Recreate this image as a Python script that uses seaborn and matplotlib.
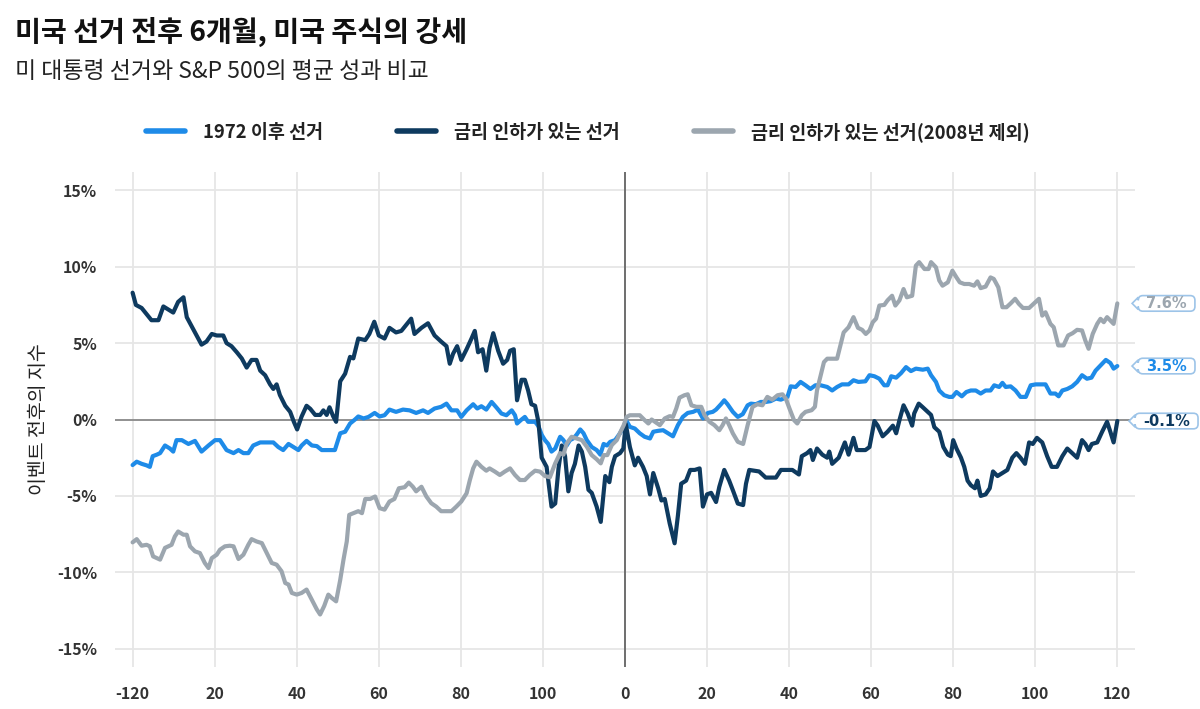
import matplotlib
matplotlib.use("Agg")
import matplotlib.pyplot as plt
from matplotlib.path import Path
from matplotlib.lines import Line2D
import matplotlib.transforms as mtransforms
import seaborn as sns
import pandas as pd

# ---------------- data ----------------
title = "미국 선거 전후 6개월, 미국 주식의 강세"
subtitle = "미 대통령 선거와 S&P 500의 평균 성과 비교"
ylabel = "이벤트 전후의 지수"
series_names = ["1972 이후 선거", "금리 인하가 있는 선거", "금리 인하가 있는 선거(2008년 제외)"]
series_colors = ["#1E8BE8", "#0E3A5F", "#9CA6AF"]

x_ticks = [-120, -100, -80, -60, -40, -20, 0, 20, 40, 60, 80, 100, 120]
x_ticklabels = ["-120", "20", "40", "60", "80", "100", "0", "20", "40", "60", "80", "100", "120"]
y_ticks = [-15, -10, -5, 0, 5, 10, 15]

all_days = [-120, -119, -117.8, -116.6, -115.8, -115.1, -114.1, -113.3, -112.1, -110.9, -110.1, -109.3, -108, -106.4,
            -104.8, -103.2, -101.5, -99.9, -98.7, -97.1, -95.4, -94.2, -93, -91.8, -90.6, -88.9, -85.7, -84.5, -83.3,
            -82, -80.8, -79.6, -78.8, -77.6, -76.3, -75.1, -73.9, -72.3, -70.7, -69.4, -68.2, -67, -65.8, -65, -63.7,
            -62.5, -61, -59.8, -58.6, -57.4, -55.8, -54.1, -52.5, -50.9, -49.2, -48, -46.4, -44.8, -43.5, -42.3,
            -40.9, -39.9, -38.6, -37, -36, -35, -33.8, -32.5, -31.3, -30.1, -28.9, -27.6, -26.8, -26.3, -25.2, -24.4,
            -23.6, -21.9, -21.1, -20.3, -19.5, -18.7, -17.9, -17, -15.8, -15, -14.2, -13.4, -12.6, -11.8, -10.9,
            -10.1, -9.3, -8.1, -6.9, -6, -5.2, -4.4, -3.6, -2.4, -1.2, -0.3, 0.3, 1.2, 2.4, 3.6, 4.8, 6.1, 6.9, 8.1,
            9.3, 10.5, 11.7, 12.9, 14.1, 15.3, 16.6, 17.8, 19, 20.2, 21.4, 22.2, 23.4, 24.2, 25, 26.3, 27.5, 28.7,
            29.9, 30.7, 31.9, 33.1, 34.3, 35.5, 36.8, 38, 39.6, 40.4, 41.6, 42.8, 44, 45.2, 46.4, 47.7, 49.3, 50.5,
            51.7, 52.9, 54.5, 55.7, 56.9, 58.6, 59.6, 60.8, 62, 63.2, 64, 64.9, 66.1, 67.3, 68.5, 69.7, 70.9, 72.6,
            73.8, 74.6, 75.8, 76.6, 77.8, 79, 79.8, 80.8, 82.1, 83.2, 84.3, 85.5, 86.7, 87.9, 89.1, 90, 91.2, 92,
            92.8, 94, 95.2, 96.4, 97.7, 98.9, 100.1, 102.5, 103.7, 104.9, 105.7, 106.6, 107.8, 109, 110.2, 111.4,
            112.6, 113.7, 114.7, 115.9, 117.2, 118.3, 119.1, 120]
all_vals = [-2.98, -2.76, -2.9, -3.0, -3.1, -2.4, -2.3, -2.2, -1.7, -1.9, -2.1, -1.35, -1.35, -1.6, -1.4, -2.1, -1.7,
            -1.35, -1.35, -2.0, -2.2, -2.0, -2.2, -2.2, -1.7, -1.5, -1.5, -1.8, -2.0, -1.6, -1.8, -2.0, -1.7, -1.4,
            -1.7, -1.74, -2.0, -2.0, -2.0, -0.9, -0.8, -0.26, 0.0, 0.2, 0.07, 0.17, 0.43, 0.2, 0.28, 0.65, 0.5, 0.65,
            0.6, 0.43, 0.6, 0.43, 0.72, 0.83, 1.04, 0.6, 0.6, 0.17, 0.6, 1.0, 0.72, 0.87, 0.65, 1.15, 0.78, 0.39,
            0.28, 0.6, 0.28, -0.26, 0.0, 0.17, -0.15, -0.15, -0.43, -1.0, -1.35, -1.6, -2.1, -1.9, -1.13, -1.35,
            -1.7, -1.35, -1.24, -1.0, -0.65, -0.9, -1.35, -1.8, -2.0, -2.3, -1.6, -1.7, -1.46, -1.35, -0.9, -0.48,
            -0.05, -0.48, -0.59, -0.9, -1.13, -1.24, -0.8, -0.74, -0.7, -0.9, -1.1, -0.37, 0.17, 0.43, 0.5, 0.65,
            0.07, 0.43, 0.5, 0.65, 1.0, 1.26, 1.0, 0.5, 0.17, 0.35, 0.93, 1.04, 1.0, 1.15, 1.15, 1.2, 1.37, 1.3,
            1.48, 2.17, 2.13, 2.46, 2.24, 2.0, 2.24, 2.24, 2.13, 1.9, 2.13, 2.3, 2.3, 2.57, 2.46, 2.5, 2.9, 2.83,
            2.67, 2.24, 2.24, 2.83, 2.74, 3.04, 3.43, 3.17, 3.33, 3.26, 3.33, 2.9, 2.46, 1.9, 1.59, 1.48, 1.48, 1.8,
            1.52, 1.8, 1.9, 1.9, 1.7, 1.9, 1.9, 2.24, 2.13, 2.4, 2.13, 2.17, 1.9, 1.48, 1.48, 2.24, 2.3, 2.3, 1.7,
            1.7, 1.52, 1.9, 2.0, 2.17, 2.46, 2.9, 2.67, 2.74, 3.2, 3.54, 3.9, 3.7, 3.33, 3.5]

cut_days = [-120, -119.2, -117.8, -116.6, -115.4, -113.7, -112.5, -111.3, -110.1, -108.9, -107.6, -106.8, -105.2,
            -104, -103.2, -102, -100.7, -99.5, -97.9, -97.1, -95.9, -94.6, -93.4, -92.2, -91, -89.8, -88.9, -87.7,
            -86.5, -85.7, -84.9, -84.1, -82.8, -81.6, -80.7, -79.9, -78.8, -77.6, -76.7, -75.5, -74.3, -73.5, -72.7,
            -72, -71.1, -70.4, -69.4, -68.2, -67, -66.2, -65, -63.3, -62.3, -61.1, -60, -58.6, -57.4, -55.8, -54.5,
            -53.3, -52.1, -51.3, -49.6, -48, -46.4, -44.8, -43.5, -42.7, -41.9, -40.9, -39.9, -38.6, -37.4, -36.6,
            -35.8, -34.7, -33.8, -33, -32.1, -30.9, -29.7, -28.7, -28, -27.1, -26.3, -25.2, -24.4, -23.6, -22.8,
            -21.9, -21.1, -20.3, -19.1, -17.9, -17, -16.2, -15.4, -14.6, -13.8, -13, -12.2, -11.3, -10.5, -9.7,
            -8.9, -8.1, -6.9, -5.9, -4.8, -3.8, -3.2, -2.4, -1.2, -0.4, 0.2, 1.2, 2.4, 3.2, 4.4, 5.3, 6.1, 6.9, 8.1,
            8.9, 9.7, 10.9, 12.1, 12.9, 13.7, 14.9, 15.9, 17, 18.2, 19, 20, 21, 22.2, 23, 24.2, 25.4, 26.4, 27.5,
            28.8, 29.5, 30.3, 32.7, 34.3, 36.8, 38, 40.8, 42.4, 43.1, 44.4, 45.2, 45.8, 46.8, 48.1, 49.3, 49.8,
            50.5, 52.1, 53.6, 54.5, 55.7, 56.5, 58.6, 59.6, 60.8, 61.6, 62.8, 64, 65.3, 66.1, 66.9, 67.9, 68.9, 70,
            70.5, 71.6, 72.6, 73.8, 74.6, 75.4, 76.6, 77.6, 78.7, 79.4, 80, 80.8, 81.9, 82.7, 83.5, 84.3, 85.3,
            85.9, 86.7, 87.9, 88.9, 89.7, 90.8, 92, 93.2, 94.4, 95.4, 96.4, 97.5, 98.5, 99.4, 100.4, 101.7, 102.9,
            104, 105.3, 106.6, 107.8, 109, 110.2, 111.4, 112.2, 113, 113.8, 115.1, 116.3, 117.5, 118.3, 119.1, 120]
cut_vals = [8.3, 7.5, 7.3, 6.9, 6.5, 6.5, 7.4, 7.2, 7.0, 7.7, 8.0, 6.7, 5.9, 5.3, 4.9, 5.1, 5.6, 5.5, 5.5, 5.0, 4.8,
            4.4, 4.0, 3.4, 3.9, 3.9, 3.2, 2.9, 2.3, 2.0, 2.3, 1.6, 0.9, 0.5, -0.15, -0.65, 0.2, 0.9, 0.7, 0.3, 0.3,
            0.6, 0.3, 0.8, 0.2, -0.15, 2.5, 3.0, 4.1, 4.0, 5.3, 5.2, 5.6, 6.4, 5.5, 5.3, 6.0, 5.7, 5.8, 6.2, 6.6,
            5.6, 6.0, 6.3, 5.5, 5.1, 4.8, 3.65, 4.3, 4.8, 3.9, 4.6, 5.3, 5.8, 4.4, 4.6, 3.2, 4.7, 5.65, 4.5, 3.65,
            3.9, 4.5, 4.6, 1.26, 2.6, 2.6, 1.9, 1.0, 0.9, -0.15, -2.5, -3.1, -5.7, -5.5, -3.2, -1.7, -2.4, -4.7,
            -3.5, -2.9, -1.7, -2.1, -3.1, -4.6, -4.8, -5.7, -6.7, -3.7, -4.1, -3.1, -2.4, -2.2, -1.9, -0.3, -1.8,
            -3.0, -2.5, -3.1, -3.7, -4.9, -3.5, -4.5, -5.3, -5.2, -6.8, -8.1, -6.3, -4.2, -4.0, -3.3, -3.3, -3.2,
            -5.7, -4.9, -4.8, -5.4, -4.4, -3.3, -4.0, -4.7, -5.5, -5.6, -4.2, -3.3, -3.4, -3.8, -3.8, -3.3, -3.3,
            -3.6, -2.4, -2.2, -2.0, -2.65, -1.9, -2.3, -2.5, -2.1, -2.9, -2.5, -1.5, -2.3, -1.2, -2.0, -2.0, -1.8,
            -0.1, -0.4, -1.1, -0.8, -0.4, -0.9, -0.04, 0.93, 0.4, -0.4, 0.4, 1.04, 0.8, 0.5, 0.3, -0.5, -0.8, -1.8,
            -2.3, -2.4, -1.35, -1.9, -2.5, -3.1, -4.0, -4.3, -4.5, -4.0, -5.0, -4.9, -4.5, -3.4, -3.7, -3.5, -3.3,
            -2.5, -2.2, -2.5, -2.9, -1.5, -1.6, -1.2, -1.5, -2.4, -3.1, -3.1, -2.4, -1.9, -2.2, -2.5, -1.35, -1.6,
            -2.0, -1.6, -1.5, -0.8, -0.15, -0.8, -1.5, -0.1]

ex08_days = [-120, -119, -117.8, -116.6, -115.8, -115, -113.3, -112.1, -110.5, -109.7, -108.9, -107.6, -106.8, -106,
             -104.8, -103.6, -102.4, -101.5, -100.7, -99.5, -98.7, -97.5, -96.3, -95.4, -94.2, -93, -91.8, -91,
             -89.8, -88.5, -87.3, -86.1, -84.9, -83.7, -82.8, -82, -81.2, -80, -78.8, -77.6, -76.3, -75.1, -74.3,
             -73.3, -72.3, -71.5, -70.4, -69.4, -68.6, -67.8, -67.2, -66.2, -65, -64.1, -63.3, -62.1, -60.9, -59.8,
             -58.6, -57.4, -56.2, -55.1, -53.7, -52.7, -51.7, -50.9, -49.6, -48.4, -47.2, -46, -44.8, -42.3, -41.1,
             -39.9, -38.6, -37.8, -37, -36.2, -35, -33.8, -33, -31.7, -30.5, -29.3, -28, -26.8, -25.6, -24.4, -23.2,
             -21.9, -20.7, -19.5, -18.3, -17, -15.8, -15, -14.2, -13, -11.8, -10.5, -9.3, -8.1, -6.9, -5.9, -5.2,
             -4.3, -3.2, -2, -1.2, -0.3, 0.4, 1.2, 3.6, 4.8, 5.7, 6.5, 7.3, 8.5, 9.7, 10.9, 11.7, 12.5, 13.3, 14.5,
             15.3, 16.2, 17.4, 18.6, 19.4, 20.6, 21.8, 23, 23.8, 24.6, 25.4, 26.3, 27.5, 28.8, 29.9, 31.1, 32.3,
             33.5, 34.7, 35.9, 37.2, 38.4, 39.2, 40.1, 41.2, 42, 43.1, 44, 45.5, 46.3, 46.8, 47.7, 48.5, 49.3, 51.7,
             52.5, 53.3, 54.5, 55.7, 56.8, 57.8, 58.7, 59.6, 60.4, 61.2, 62, 63.2, 64, 65.1, 65.9, 66.9, 67.9, 68.7,
             70, 70.9, 71.7, 73, 74, 74.6, 75.8, 76.6, 77.4, 78.7, 79.8, 80.8, 81.6, 82.7, 83.9, 85.1, 85.9, 86.7,
             87.9, 89.1, 89.9, 91, 92, 93, 94, 95.1, 96, 97, 98.5, 99.7, 100.9, 101.7, 102.5, 103.7, 104.5, 105.6,
             106.9, 108, 109.1, 110.2, 111.4, 112.2, 113, 114, 115.1, 115.9, 116.7, 117.5, 118.3, 119.1, 120]
ex08_vals = [-8.04, -7.83, -8.26, -8.2, -8.3, -8.96, -9.17, -8.4, -8.2, -7.65, -7.33, -7.54, -7.54, -8.3, -8.63,
             -8.74, -9.39, -9.72, -9.07, -8.85, -8.52, -8.3, -8.26, -8.3, -9.13, -8.85, -8.2, -7.83, -7.98, -8.09,
             -8.74, -9.39, -9.5, -9.93, -10.7, -10.8, -11.35, -11.46, -11.35, -11.13, -11.8, -12.43, -12.76, -12.2,
             -11.46, -11.67, -11.9, -10.5, -9.17, -7.98, -6.24, -6.13, -6.0, -6.13, -5.2, -5.2, -5.04, -5.8, -5.9,
             -5.37, -5.2, -4.5, -4.43, -4.13, -4.4, -4.7, -4.4, -5.04, -5.48, -5.7, -6.0, -6.0, -5.7, -5.37, -4.83,
             -3.96, -3.2, -2.76, -3.09, -3.35, -3.2, -3.41, -3.63, -3.41, -3.2, -3.63, -3.96, -3.96, -3.63, -3.35,
             -3.41, -3.7, -3.78, -2.87, -2.2, -2.3, -1.57, -1.13, -1.24, -1.35, -1.78, -2.33, -2.6, -2.87, -2.33,
             -2.33, -1.67, -1.35, -0.87, -0.37, 0.17, 0.28, 0.28, -0.04, -0.26, 0.0, -0.15, -0.37, 0.07, 0.22, 0.17,
             0.72, 1.43, 1.59, 1.65, 0.93, 0.83, 0.83, 0.28, -0.15, -0.37, -0.7, -0.37, 0.07, -0.37, -0.91, -1.46,
             -1.6, -0.37, 0.83, 1.0, 0.93, 1.48, 1.3, 1.59, 1.65, 1.37, 0.72, -0.04, -0.26, 0.28, 0.5, 0.61, 0.83,
             1.9, 2.9, 3.76, 3.98, 3.98, 4.85, 5.7, 6.04, 6.7, 6.0, 5.87, 5.6, 5.83, 6.37, 6.6, 7.46, 7.5, 7.8, 8.1,
             7.46, 7.8, 8.54, 8.0, 8.1, 10.07, 10.3, 9.85, 9.85, 10.3, 9.96, 9.1, 8.76, 8.98, 9.74, 9.3, 8.98, 8.87,
             8.87, 8.76, 9.04, 8.6, 8.7, 9.3, 9.2, 8.65, 7.35, 7.35, 7.6, 7.9, 7.57, 7.3, 7.3, 7.6, 7.9, 6.8, 7.02,
             6.26, 6.04, 4.85, 4.85, 5.5, 5.65, 5.87, 5.83, 5.17, 4.63, 5.6, 6.26, 6.59, 6.37, 6.7, 6.48, 6.26, 7.6]

series_days = [all_days, cut_days, ex08_days]
series_vals = [all_vals, cut_vals, ex08_vals]

# ---------------- build long table ----------------
frames = []
for name, d, v in zip(series_names, series_days, series_vals):
    frames.append(pd.DataFrame({"day": d, "value": v, "series": name}))
df = pd.concat(frames, ignore_index=True)

# ---------------- style ----------------
sns.set_theme(style="white")
plt.rcParams["font.family"] = ["Noto Sans CJK KR", "DejaVu Sans"]
plt.rcParams["axes.unicode_minus"] = False

fig = plt.figure(figsize=(12, 7.09), dpi=100)
ax = fig.add_axes([0.0958, 0.0592, 0.85, 0.6982])

palette = dict(zip(series_names, series_colors))
sns.lineplot(data=df, x="day", y="value", hue="series", hue_order=series_names,
             palette=palette, linewidth=3.0, estimator=None, sort=False,
             legend=False, ax=ax, zorder=3)

ax.set_xlim(-124.3, 124.3)
ax.set_ylim(-16.2, 16.2)
ax.set_xticks(x_ticks)
ax.set_xticklabels(x_ticklabels)
ax.set_yticks(y_ticks)
ax.set_yticklabels([f"{t}%" for t in y_ticks])
for s in ax.spines.values():
    s.set_visible(False)
ax.grid(True, color="#e6e6e6", linewidth=1.3, zorder=0)
ax.set_axisbelow(True)
ax.axhline(0, color="#8a8a8a", linewidth=1.3, zorder=2)
ax.axvline(0, color="#5a5a5a", linewidth=1.2, zorder=2)

ax.tick_params(axis="both", length=0, colors="#333333", labelsize=11.5)
ax.tick_params(axis="y", pad=13)
ax.tick_params(axis="x", pad=14)
for lab in ax.get_xticklabels() + ax.get_yticklabels():
    lab.set_fontweight("bold")
ax.set_xlabel("")
ax.set_ylabel(ylabel, fontsize=14, color="#222222")
ax.yaxis.set_label_coords(-0.065, 0.5)

# ---------------- titles ----------------
fig.text(0.0125, 1 - 32 / 709, title, fontsize=20.3, fontweight="bold", color="#111111", va="center", ha="left")
fig.text(0.0125, 1 - 72 / 709, subtitle, fontsize=16.5, color="#222222", va="center", ha="left")

# ---------------- legend ----------------
handles = [Line2D([0], [0], color=c, linewidth=4, solid_capstyle="round") for c in series_colors]
leg = fig.legend(handles, series_names, loc="center", bbox_to_anchor=(0.49, 1 - 132 / 709), ncol=3,
                 frameon=False, fontsize=13.3, handlelength=2.1, handletextpad=1.0, columnspacing=4.0)
for t in leg.get_texts():
    t.set_fontweight("bold")
    t.set_color("#222222")


# ---------------- end-value callouts ----------------
def callout_box(x0, y0, width, height, mutation_size):
    padx = 0.55 * mutation_size
    pady = 0.02 * mutation_size
    x0 -= padx
    x1 = x0 + width + 2 * padx
    y0 -= pady
    y1 = y0 + height + 2 * pady
    r = 0.32 * mutation_size
    a = 0.42 * mutation_size
    d = 0.42 * mutation_size
    ym = (y0 + y1) / 2
    verts = [(x0 - d, ym), (x0, ym - a), (x0, y0 + r), (x0, y0), (x0 + r, y0), (x1 - r, y0), (x1, y0),
             (x1, y0 + r), (x1, y1 - r), (x1, y1), (x1 - r, y1), (x0 + r, y1), (x0, y1), (x0, y1 - r),
             (x0, ym + a), (x0 - d, ym)]
    codes = [Path.MOVETO, Path.LINETO, Path.LINETO, Path.CURVE3, Path.CURVE3, Path.LINETO, Path.CURVE3,
             Path.CURVE3, Path.LINETO, Path.CURVE3, Path.CURVE3, Path.LINETO, Path.CURVE3, Path.CURVE3,
             Path.LINETO, Path.CLOSEPOLY]
    return Path(verts, codes)


trans = mtransforms.blended_transform_factory(ax.transAxes, ax.transData)
for vals, color in zip(series_vals, series_colors):
    last = vals[-1]
    ax.text(1.031, last, f"{last:.1f}%", transform=trans, ha="center", va="center",
            fontsize=10.5, fontweight="bold", color=color, family="DejaVu Sans", clip_on=False, zorder=5,
            bbox=dict(boxstyle=callout_box, facecolor="white", edgecolor="#9dc4e8", linewidth=1.2))

fig.savefig("out.png", dpi=100)
